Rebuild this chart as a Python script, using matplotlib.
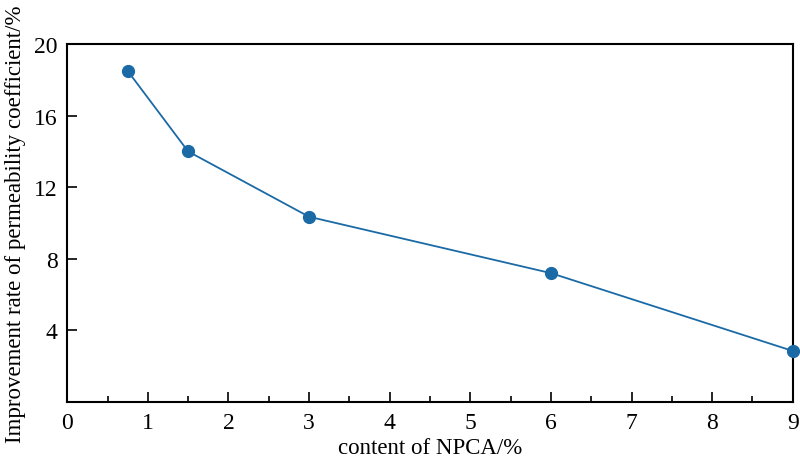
import matplotlib
matplotlib.use("Agg")
import matplotlib.pyplot as plt
from matplotlib.ticker import MultipleLocator

content = [0.75, 1.5, 3, 6, 9]
improvement = [18.5, 14.0, 10.35, 7.2, 2.85]

plt.rcParams['font.family'] = ['Liberation Serif', 'DejaVu Serif']

fig = plt.figure(figsize=(8, 4.6), dpi=100)
ax = fig.add_axes([0.084, 0.124, 0.907, 0.778])

ax.plot(content, improvement, color='#1a6aa6', lw=1.3, marker='o', ms=8.5,
        clip_on=False, zorder=3)

ax.set_xlim(0, 9)
ax.set_ylim(0, 20)
ax.xaxis.set_major_locator(MultipleLocator(1))
ax.xaxis.set_minor_locator(MultipleLocator(0.5))
ax.set_yticks([4, 8, 12, 16, 20])
ax.tick_params(direction='in', which='major', length=7, width=1.2, labelsize=17, pad=7)
ax.tick_params(direction='in', which='minor', length=4, width=1.2)
for s in ax.spines.values():
    s.set_linewidth(1.5)

ax.set_xlabel('content of NPCA/%', fontsize=16.5, labelpad=3)
ax.set_ylabel('Improvement rate of permeability coefficient/%', fontsize=16.5, labelpad=6)

fig.savefig('out.png', dpi=100)
